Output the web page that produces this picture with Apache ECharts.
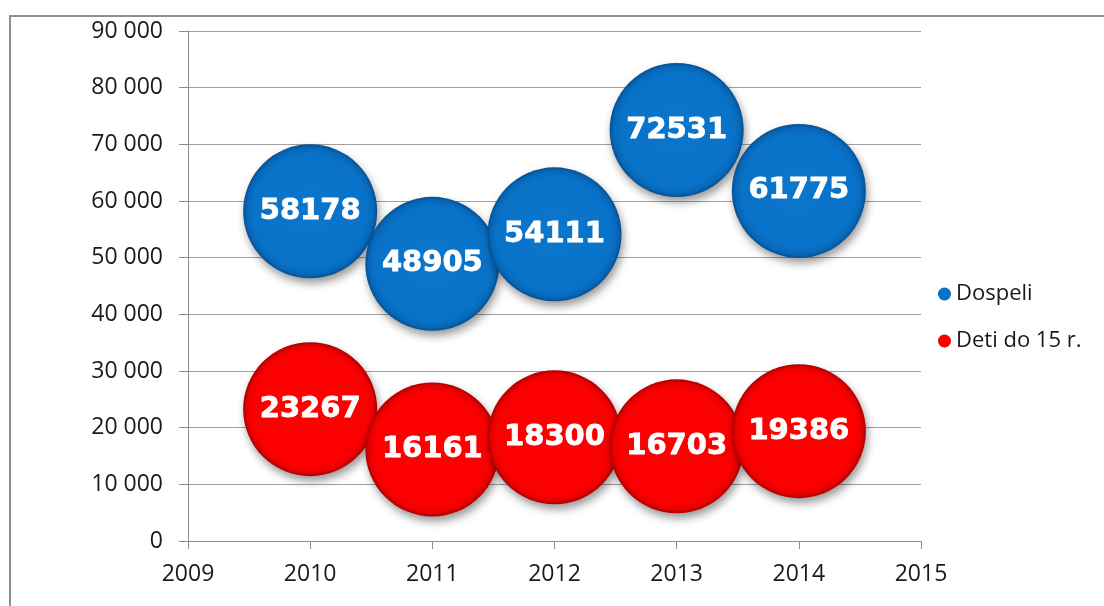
<!DOCTYPE html>
<html>
<head>
<meta charset="utf-8">
<script src="https://cdn.jsdelivr.net/npm/echarts@6/dist/echarts.min.js"></script>
<style>
  html, body { margin: 0; padding: 0; background: #fff; overflow: hidden; }
  .frame {
    position: absolute;
    left: 9px;
    top: 15px;
    width: 1200px;
    height: 700px;
    border: 2px solid #8e8e8e;
    box-sizing: border-box;
  }
  #chart { position: absolute; left: 0; top: 0; width: 1104px; height: 606px; }
</style>
</head>
<body>
<div class="frame"></div>
<div id="chart"></div>
<script>
// data
const years = [2010, 2011, 2012, 2013, 2014];
const dospeli = [58178, 48905, 54111, 72531, 61775];
const deti = [23267, 16161, 18300, 16703, 19386];
const seriesNames = ['Dospeli', 'Deti do 15 r.'];
const xMin = 2009, xMax = 2015;
const yMin = 0, yMax = 90000, yStep = 10000;

const bubbleSize = 134;

function bubbleFill(c0, c1, c2, c3) {
  return new echarts.graphic.RadialGradient(0.5, 0.5, 0.5, [
    { offset: 0, color: c0 },
    { offset: 0.86, color: c1 },
    { offset: 0.95, color: c2 },
    { offset: 1, color: c3 }
  ]);
}

function fmt(v) {
  return String(v).replace(/\B(?=(\d{3})+(?!\d))/g, ' ');
}

function makeSeries(name, values, fill) {
  return {
    name: name,
    type: 'scatter',
    symbol: 'circle',
    symbolSize: bubbleSize,
    data: years.map((y, i) => [y, values[i]]),
    itemStyle: {
      color: fill,
      opacity: 1,
      shadowBlur: 8,
      shadowOffsetX: 2,
      shadowOffsetY: 5,
      shadowColor: 'rgba(0,0,0,0.4)'
    },
    label: {
      show: true,
      position: 'inside',
      formatter: p => String(p.value[1]),
      color: '#fff',
      fontFamily: 'DejaVu Sans',
      fontWeight: 'bold',
      fontSize: 29,
      textBorderColor: '#fff',
      textBorderWidth: 0.8
    },
    emphasis: { disabled: true }
  };
}

const chart = echarts.init(document.getElementById('chart'));
chart.setOption({
  animation: false,
  backgroundColor: 'transparent',
  grid: { left: 188, right: 183, top: 31, bottom: 65 },
  legend: {
    orient: 'vertical',
    left: 933,
    top: 278,
    itemWidth: 13,
    itemHeight: 13,
    itemGap: 25,
    icon: 'circle',
    data: seriesNames,
    textStyle: { fontFamily: 'Open Sans', fontSize: 22, color: '#1a1a1a' }
  },
  xAxis: {
    type: 'value',
    min: xMin,
    max: xMax,
    interval: 1,
    axisLine: { show: true, lineStyle: { color: '#8c8c8c', width: 1 } },
    axisTick: { show: true, length: 8, lineStyle: { color: '#8c8c8c' } },
    splitLine: { show: false },
    axisLabel: {
      margin: 22,
      color: '#1a1a1a',
      fontFamily: 'Open Sans',
      fontSize: 23,
      formatter: v => String(v)
    }
  },
  yAxis: {
    type: 'value',
    min: yMin,
    max: yMax,
    interval: yStep,
    axisLine: { show: true, lineStyle: { color: '#8c8c8c', width: 1 } },
    axisTick: { show: true, length: 9, lineStyle: { color: '#8c8c8c' } },
    splitLine: { show: true, lineStyle: { color: '#a0a0a0', width: 1 } },
    axisLabel: {
      margin: 25,
      color: '#1a1a1a',
      fontFamily: 'Open Sans',
      fontSize: 23,
      formatter: fmt
    }
  },
  series: [
    makeSeries(seriesNames[0], dospeli, bubbleFill('#0a76cc', '#0872c8', '#0766b6', '#064f8e')),
    makeSeries(seriesNames[1], deti, bubbleFill('#ff0000', '#fb0000', '#e40000', '#a80000'))
  ]
});
</script>
</body>
</html>
